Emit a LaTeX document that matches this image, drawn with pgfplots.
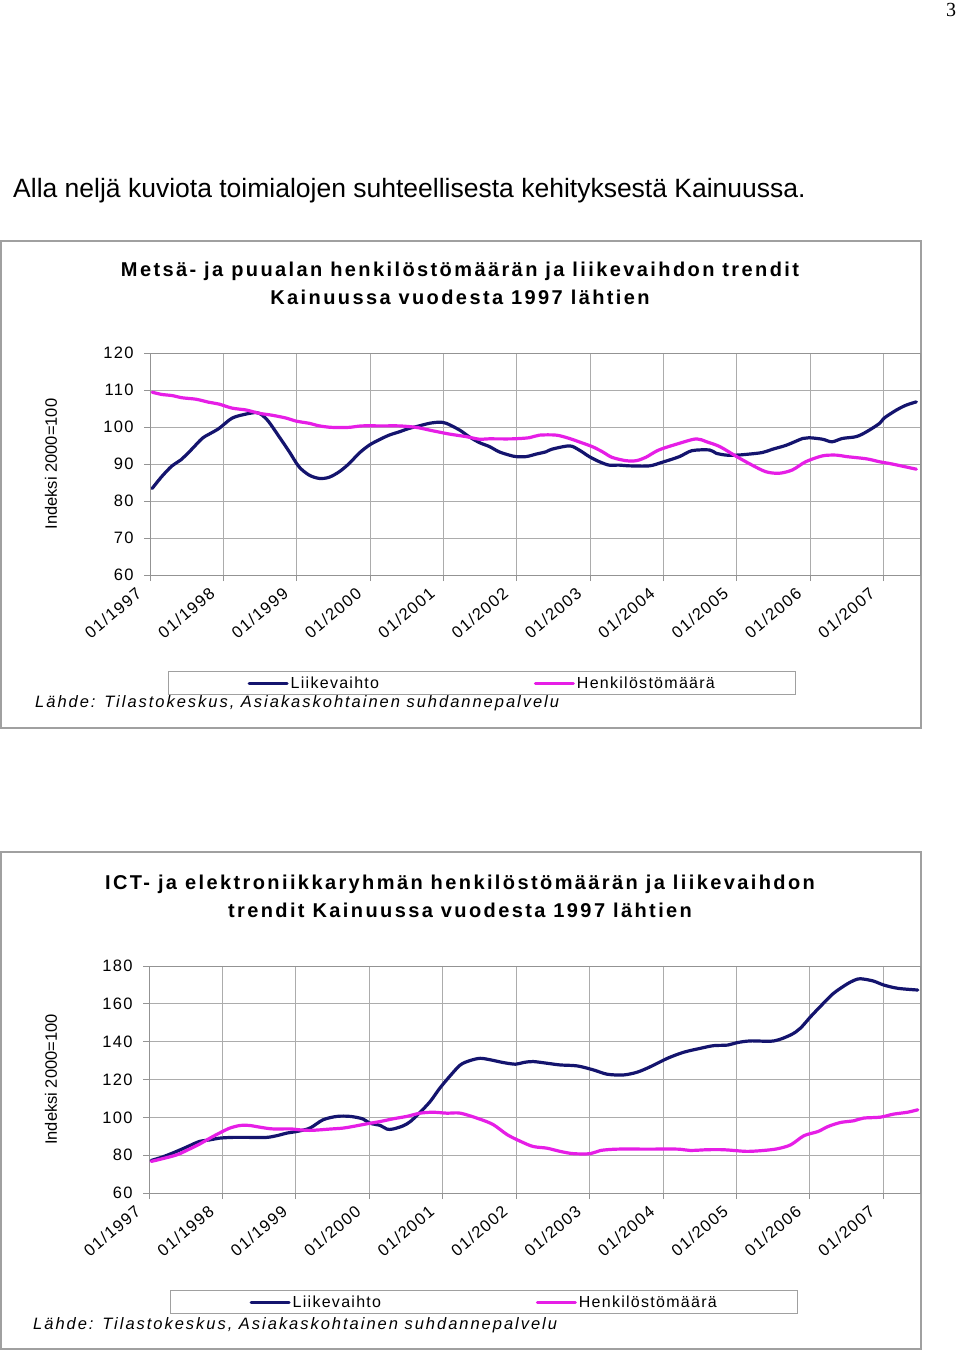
\documentclass[border=0pt]{standalone}
\usepackage{pgfplots}
\pgfplotsset{compat=1.18}
\usepackage{pgfplotstable}
\usepackage{fontspec}
\setmainfont{Liberation Sans}
\newfontfamily\spfont[LetterSpace=8]{Liberation Sans}
\newfontfamily\titlefont[LetterSpace=12]{Liberation Sans}
\newfontfamily\srcfont[LetterSpace=12]{Liberation Sans}
\newfontfamily\serif{Liberation Serif}
\definecolor{navy}{RGB}{20,20,110}
\definecolor{mag}{RGB}{230,30,230}
\definecolor{frame}{RGB}{160,160,160}

\pgfplotstableread{
x y
0.03 83.4
0.16 86.6
0.30 89.5
0.42 91.1
0.56 93.8
0.71 96.9
0.80 98.0
0.94 99.6
1.12 102.4
1.31 103.5
1.45 103.9
1.53 103.2
1.62 101.4
1.76 97.4
1.90 93.3
2.03 89.3
2.17 87.0
2.31 86.1
2.44 86.4
2.58 87.9
2.72 90.2
2.85 92.9
2.99 95.1
3.12 96.5
3.26 97.8
3.40 98.7
3.53 99.6
3.67 100.3
3.81 101.0
3.94 101.3
4.04 101.0
4.22 99.2
4.35 97.4
4.49 95.8
4.63 94.7
4.76 93.3
4.90 92.4
4.99 92.0
5.13 92.0
5.27 92.7
5.40 93.3
5.48 94.0
5.72 94.9
5.85 93.8
5.99 92.0
6.13 90.6
6.26 89.7
6.40 89.7
6.54 89.5
6.81 89.5
6.99 90.5
7.22 92.0
7.39 93.6
7.63 93.8
7.72 92.9
7.86 92.4
8.00 92.4
8.13 92.6
8.35 93.1
8.49 94.0
8.68 95.1
8.90 96.9
8.99 97.1
9.17 96.7
9.30 96.0
9.44 96.9
9.63 97.4
9.77 98.7
9.95 101.0
10.01 102.4
10.18 104.6
10.31 105.9
10.45 106.8
}\metsaliike

\pgfplotstableread{
x y
0.03 109.4
0.16 108.8
0.30 108.5
0.44 107.9
0.63 107.5
0.80 106.7
0.94 106.2
1.12 105.1
1.31 104.6
1.49 103.7
1.66 103.2
1.86 102.4
1.99 101.6
2.17 101.0
2.31 100.3
2.48 99.9
2.71 99.9
2.89 100.3
3.17 100.3
3.40 100.3
3.63 99.9
3.85 99.0
4.08 98.1
4.31 97.4
4.49 96.7
4.62 96.8
4.94 96.8
5.17 97.1
5.31 97.8
5.54 97.8
5.72 96.9
5.85 96.0
6.03 94.7
6.17 93.3
6.30 91.8
6.49 90.9
6.63 90.9
6.76 91.8
6.94 93.8
7.22 95.6
7.45 96.8
7.59 96.0
7.77 94.7
8.00 92.0
8.21 89.7
8.40 87.9
8.58 87.5
8.76 88.4
8.94 90.6
9.17 92.2
9.36 92.4
9.50 92.0
9.77 91.4
9.95 90.6
10.12 90.0
10.45 88.6
}\metsahenk

\pgfplotstableread{
x y
0.03 77.2
0.18 79.0
0.32 81.1
0.46 83.4
0.58 85.5
0.69 87.3
0.83 88.1
0.96 89.0
1.14 89.4
1.37 89.4
1.60 89.4
1.74 90.3
1.88 91.7
2.01 92.5
2.19 94.3
2.37 98.7
2.56 100.5
2.74 100.5
2.91 99.2
3.01 96.9
3.15 95.7
3.24 93.8
3.32 93.8
3.46 95.5
3.56 97.8
3.69 102.6
3.83 108.4
3.96 115.4
4.10 121.9
4.24 127.7
4.37 130.0
4.51 131.2
4.65 130.4
4.82 129.0
4.99 128.1
5.10 129.0
5.23 129.5
5.42 128.6
5.60 127.7
5.83 127.2
6.05 125.1
6.24 122.8
6.46 122.4
6.65 123.9
6.83 126.8
7.06 131.2
7.28 134.4
7.51 136.5
7.69 137.9
7.88 138.2
8.01 139.5
8.19 140.4
8.51 140.4
8.74 143.6
8.87 147.1
9.01 153.2
9.15 158.9
9.32 165.5
9.52 170.8
9.65 173.1
9.73 173.1
9.87 172.0
10.01 169.9
10.20 168.2
10.47 167.3
}\ictliike

\pgfplotstableread{
x y
0.03 76.7
0.18 78.1
0.38 80.2
0.55 83.2
0.69 85.9
0.83 89.0
0.96 91.7
1.10 94.3
1.24 95.7
1.37 95.7
1.51 94.8
1.68 93.9
1.92 93.9
2.05 93.4
2.19 93.1
2.33 93.4
2.46 93.8
2.64 94.3
2.78 95.2
2.97 96.6
3.15 97.8
3.32 99.2
3.51 100.5
3.69 102.2
3.87 102.7
4.06 102.2
4.24 102.2
4.51 99.0
4.69 96.1
4.88 90.8
5.06 87.3
5.23 84.6
5.42 83.7
5.60 82.0
5.78 80.8
6.01 80.8
6.15 82.5
6.38 83.2
6.79 83.2
7.20 83.2
7.37 82.5
7.61 82.9
7.82 82.9
7.96 82.5
8.15 82.0
8.37 82.5
8.56 83.4
8.74 85.5
8.92 90.3
9.11 92.5
9.25 95.2
9.42 97.3
9.60 98.2
9.73 99.6
9.96 100.1
10.14 101.7
10.33 102.7
10.47 104.0
}\icthenk

\pgfplotsset{
  excelstyle/.style={
    scale only axis,
    xmin=0, xmax=10.5,
    xtick={0,1,2,3,4,5,6,7,8,9,10},
    xticklabels={01/1997,01/1998,01/1999,01/2000,01/2001,01/2002,01/2003,01/2004,01/2005,01/2006,01/2007},
    grid=major,
    grid style={draw=gray!65, line width=0.8pt},
    axis line style={draw=gray!85, line width=1pt},
    tick align=outside,
    tick pos=left,
    major tick length=6pt,
    every tick/.style={draw=gray!85, line width=0.8pt},
    /pgf/number format/assume math mode=true,
    tick label style={font=\spfont\fontsize{16.5}{16.5}\selectfont},
    yticklabel style={anchor=east, xshift=-7pt},
    xticklabel style={xshift=-11pt, yshift=-10pt, rotate=40, anchor=east, inner sep=0pt},
    ylabel={Indeksi 2000=100},
    ylabel style={font=\fontsize{16.5}{16.5}\selectfont, anchor=center},
    legend columns=2,
    legend cell align=left,
    legend image code/.code={%
      \path (0pt,0pt) (117pt,0pt);
      \draw[#1, line width=3pt] (79pt,0pt) -- (117pt,0pt);},
    legend style={draw=frame, line width=1pt, inner xsep=0pt, inner ysep=3pt,
      font=\spfont\fontsize{16}{16}\selectfont,
      nodes={inner xsep=0pt, inner ysep=2pt},
      /tikz/every even column/.style={column sep=0pt}},
  },
  liike/.style={color=navy, line width=3.2pt, line join=round, line cap=round, smooth},
  henk/.style={color=mag, line width=3.2pt, line join=round, line cap=round, smooth},
}

\begin{document}
\begin{tikzpicture}
\path[use as bounding box] (0pt,0pt) rectangle (960pt,-1351pt);
\fill[white] (0pt,0pt) rectangle (960pt,-1351pt);

\node[anchor=base, font=\serif\fontsize{20}{20}\selectfont] at (951pt,-17pt) {3};
\node[anchor=base west, inner sep=0pt, font=\fontsize{26.5}{26.5}\selectfont] at (13pt,-197pt)
  {Alla neljä kuviota toimialojen suhteellisesta kehityksestä Kainuussa.};

% ---------- chart 1 ----------
\draw[frame, line width=1.2pt] (1pt,-241pt) rectangle (921pt,-728pt);
\node[align=center, font=\titlefont\bfseries\fontsize{20}{28}\selectfont] at (460pt,-283pt)
  {Metsä- ja puualan henkilöstömäärän ja liikevaihdon trendit\\Kainuussa vuodesta 1997 lähtien};
\begin{axis}[excelstyle,
  at={(150pt,-575pt)}, anchor=south west,
  width=770pt, height=222pt,
  ymin=60, ymax=120, ytick={60,70,80,90,100,110,120},
  ylabel style={at={(axis description cs:-0.1286,0.5)}},
  legend style={at={(0.0234,-0.4324)}, anchor=north west},
]
\addplot[liike] table[x=x,y=y] {\metsaliike};
\addlegendentry{\makebox[166pt][l]{\hspace{2pt}Liikevaihto}}
\addplot[henk] table[x=x,y=y] {\metsahenk};
\addlegendentry{\makebox[221pt][l]{\hspace{2pt}Henkilöstömäärä}}
\end{axis}
\node[anchor=west, inner sep=0pt, font=\srcfont\itshape\fontsize{16.5}{16.5}\selectfont] at (35pt,-703pt)
  {Lähde: Tilastokeskus, Asiakaskohtainen suhdannepalvelu};

% ---------- chart 2 ----------
\draw[frame, line width=1.2pt] (1pt,-852pt) rectangle (921pt,-1349pt);
\node[align=center, font=\titlefont\bfseries\fontsize{20}{28}\selectfont] at (460pt,-896pt)
  {ICT- ja elektroniikkaryhmän henkilöstömäärän ja liikevaihdon\\trendit Kainuussa vuodesta 1997 lähtien};
\begin{axis}[excelstyle,
  at={(149pt,-1193pt)}, anchor=south west,
  width=771pt, height=227pt,
  ymin=60, ymax=180, ytick={60,80,100,120,140,160,180},
  ylabel style={at={(axis description cs:-0.127,0.5)}},
  legend style={at={(0.0272,-0.4273)}, anchor=north west},
]
\addplot[liike] table[x=x,y=y] {\ictliike};
\addlegendentry{\makebox[166pt][l]{\hspace{2pt}Liikevaihto}}
\addplot[henk] table[x=x,y=y] {\icthenk};
\addlegendentry{\makebox[221pt][l]{\hspace{2pt}Henkilöstömäärä}}
\end{axis}
\node[anchor=west, inner sep=0pt, font=\srcfont\itshape\fontsize{16.5}{16.5}\selectfont] at (33pt,-1325pt)
  {Lähde: Tilastokeskus, Asiakaskohtainen suhdannepalvelu};
\end{tikzpicture}
\end{document}
